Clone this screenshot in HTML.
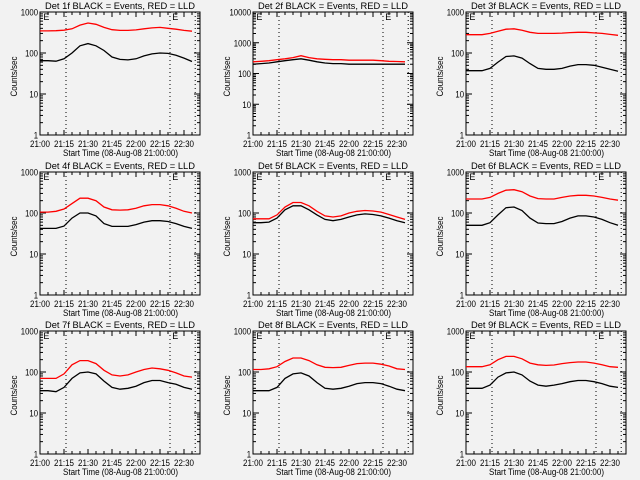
<!DOCTYPE html>
<html><head><meta charset="utf-8"><style>
html,body{margin:0;padding:0;background:#f2f2f2;}
svg{display:block;}
text{font-family:"Liberation Sans",sans-serif;font-size:9px;fill:#000;}
</style></head><body>
<svg id="chart" width="640" height="480"></svg>
<script>
const times=[0,5,10,15,20,25,30,35,40,45,50,55,60,65,70,75,80,85,90,95];
const xTickLabels=["21:00","21:15","21:30","21:45","22:00","22:15","22:30"];
const markerTimes=[16.25,81.25,97];
const detNames=["1f","2f","3f","4f","5f","6f","7f","8f","9f"];
const yMaxDecades=[3,4,3,3,3,3,3,3,3];
const black1=[65,65,63,72,100,150,170,150,115,80,70,68,72,85,95,100,98,88,75,62];
const red1=[345,345,350,360,390,480,540,500,420,370,355,355,365,390,410,420,400,380,355,340];
const black2=[200,210,220,240,260,280,300,270,240,220,210,210,200,200,200,200,200,200,200,200];
const red2=[240,250,260,280,300,330,380,330,300,290,280,280,270,270,270,270,260,250,245,240];
const black3=[37,37,37,42,60,82,85,75,55,42,40,40,42,48,52,52,50,45,40,36];
const red3=[280,280,280,300,340,380,390,360,320,300,300,300,305,315,320,320,310,300,285,270];
const black4=[42,42,42,48,75,100,100,85,55,47,47,47,52,60,65,65,62,55,47,42];
const red4=[105,105,110,125,170,230,230,200,140,120,118,120,130,150,160,160,150,130,110,100];
const black5=[58,58,60,75,120,150,150,120,90,70,65,70,80,90,95,92,85,75,65,58];
const red5=[72,72,72,90,140,180,180,150,110,85,80,85,100,110,115,112,105,92,80,70];
const black6=[50,50,50,58,90,135,140,115,75,57,55,55,62,75,85,85,80,70,58,50];
const red6=[220,220,220,240,300,360,370,330,260,225,220,220,240,260,270,270,260,240,220,205];
const black7=[35,35,33,42,70,95,100,90,60,42,38,40,45,55,62,62,55,50,42,38];
const red7=[70,70,70,90,150,190,190,160,110,85,80,85,100,115,125,120,110,95,80,75];
const black8=[35,35,35,42,70,90,95,80,55,40,38,40,45,52,55,55,52,45,38,35];
const red8=[115,115,120,135,180,220,220,190,150,130,128,130,145,160,165,165,155,140,120,115];
const black9=[40,40,40,48,75,95,100,85,60,48,45,48,52,58,62,62,58,52,45,42];
const red9=[135,135,135,150,200,240,240,210,165,150,145,148,160,170,175,175,165,150,135,130];
const blacks=[black1,black2,black3,black4,black5,black6,black7,black8,black9];
const reds=[red1,red2,red3,red4,red5,red6,red7,red8,red9];

const NS="http://www.w3.org/2000/svg";
const svg=document.getElementById('chart');
function mk(tag,attrs,parent){const e=document.createElementNS(NS,tag);for(const k in attrs)e.setAttribute(k,attrs[k]);(parent||svg).appendChild(e);return e;}
const colX=[0,213,426], rowY=[12,172,331], W=160, H=123;

for(let p=0;p<9;p++){
  const L=colX[p%3]+40, T=rowY[Math.floor(p/3)], B=T+H, R=L+W;
  const dec=yMaxDecades[p];
  const xs=t=>L+t*W/100;
  const ys=v=>B-Math.log10(v)/dec*H;
  const g=mk('g',{});
  
  
  const title=mk('text',{x:L+5,y:T-3,textLength:150,lengthAdjust:'spacingAndGlyphs'},g);
  title.textContent='Det '+detNames[p]+' BLACK = Events, RED = LLD';
  
  
  const box=mk('rect',{x:L,y:T,width:W,height:H,fill:'none',stroke:'#000','stroke-width':1},g);
  
  
  for(let t=0;t<=100;t+=5){
    const x=xs(t), len=(t%15===0)?5:3;
    mk('line',{x1:x,y1:B,x2:x,y2:B-len,stroke:'#000'},g);
    mk('line',{x1:x,y1:T,x2:x,y2:T+len,stroke:'#000'},g);
  }
  xTickLabels.forEach((s,i)=>{
    const tl=mk('text',{x:xs(i*15)-10,y:B+12,textLength:20,lengthAdjust:'spacingAndGlyphs'},g);
    tl.textContent=s;
    
    
  });
  const xt=mk('text',{x:L+23,y:B+21,textLength:115,lengthAdjust:'spacingAndGlyphs'},g);
  xt.textContent='Start Time (08-Aug-08 21:00:00)';
  
  
  for(let d=0;d<=dec;d++){
    const v=Math.pow(10,d), y=ys(v);
    mk('line',{x1:L,y1:y,x2:L+6,y2:y,stroke:'#000'},g);
    mk('line',{x1:R,y1:y,x2:R-6,y2:y,stroke:'#000'},g);
    const s=String(v);
    const w=s.length*4.3;
    const yl=mk('text',{x:L-2-w,y:y+3.5,textLength:w,lengthAdjust:'spacingAndGlyphs'},g);
    yl.textContent=s;
    
    
    if(d<dec) for(let m=2;m<=9;m++){
      const ym=ys(v*m);
      mk('line',{x1:L,y1:ym,x2:L+3,y2:ym,stroke:'#000'},g);
      mk('line',{x1:R,y1:ym,x2:R-3,y2:ym,stroke:'#000'},g);
    }
  }
  const yt=mk('text',{x:-20,y:0,textLength:40,lengthAdjust:'spacingAndGlyphs',transform:`translate(${L-23},${T+H/2+3}) rotate(-90)`},g);
  yt.textContent='Counts/sec';
  
  
  markerTimes.forEach(t=>{
    const ml=mk('line',{x1:xs(t),y1:T,x2:xs(t),y2:B,stroke:'#000','stroke-dasharray':'1,3'},g);
    
    
  });
  [1.5,82].forEach(t=>{
    const e=mk('text',{x:xs(t)+1,y:T+8,'font-size':'10'},g);
    e.textContent='E';
    
    
  });
  const pts=arr=>arr.map((v,i)=>xs(times[i]).toFixed(1)+','+ys(v).toFixed(1)).join(' ');
  const rl=mk('polyline',{points:pts(reds[p]),fill:'none',stroke:'#ff0000','stroke-width':1.3},g);
  
  
  const bl=mk('polyline',{points:pts(blacks[p]),fill:'none',stroke:'#000','stroke-width':1.3},g);
  
  
}
</script>
</body></html>
